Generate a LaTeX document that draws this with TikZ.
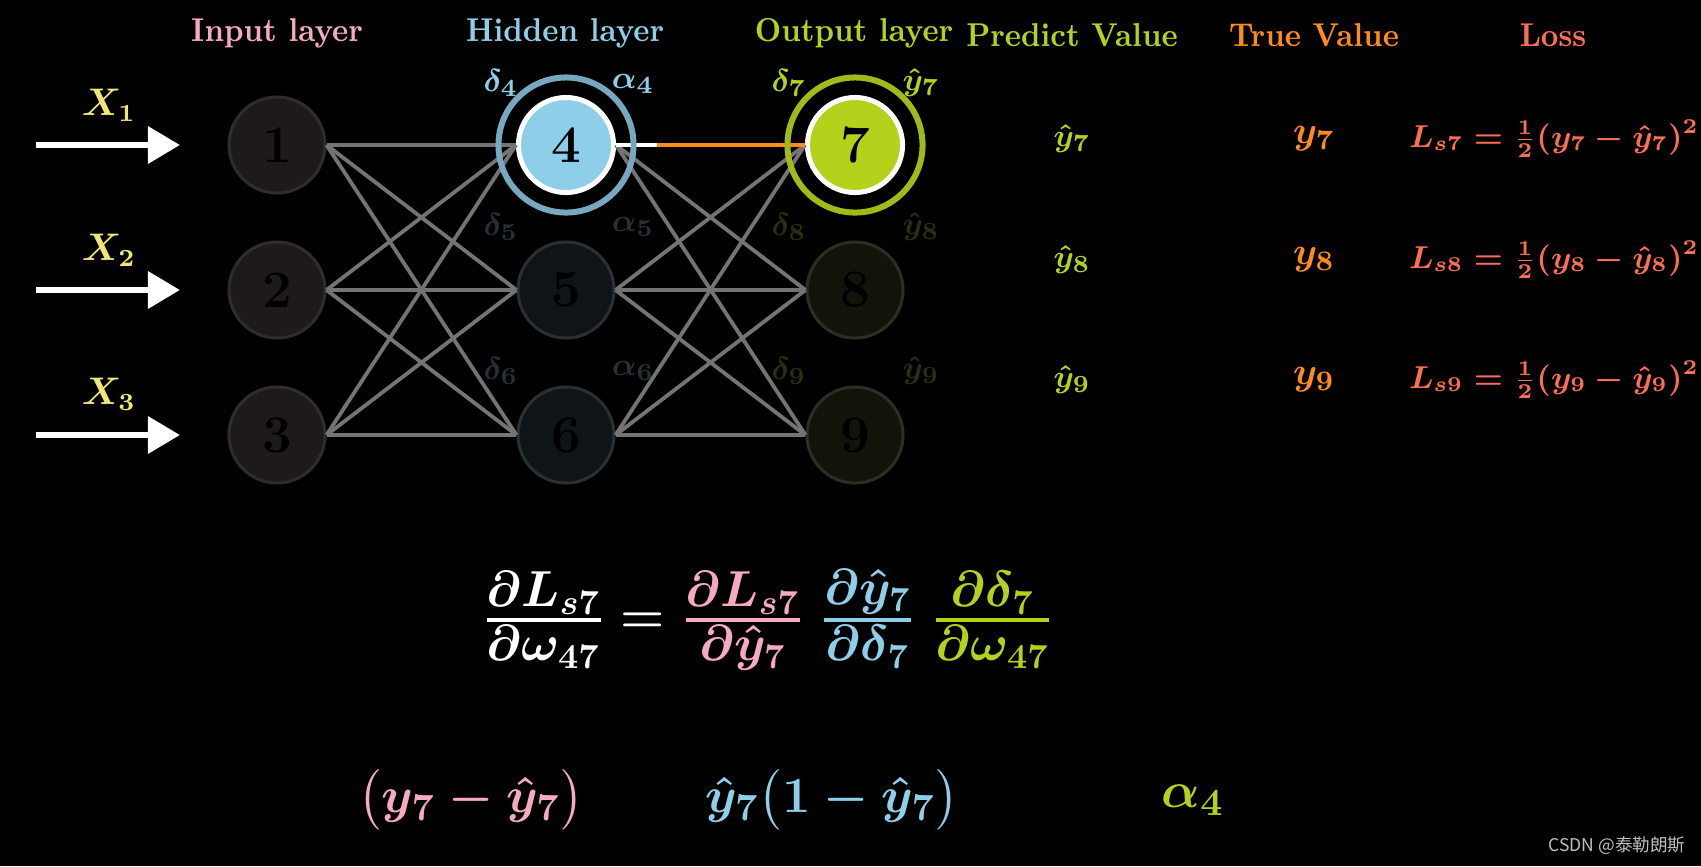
\documentclass[tikz,border=0pt]{standalone}
\usepackage{amsmath}
\usepackage{fontspec}
\newfontfamily\cjk{Noto Sans CJK SC}
\usetikzlibrary{arrows.meta}
\definecolor{pinkc}{RGB}{246,170,192}
\definecolor{bluec}{RGB}{142,206,232}
\definecolor{greenc}{RGB}{181,209,28}
\definecolor{orangec}{RGB}{255,140,26}
\definecolor{lossc}{RGB}{250,110,85}
\definecolor{xyel}{RGB}{240,230,120}
\definecolor{ringblue}{RGB}{118,168,192}
\definecolor{ringgreen}{RGB}{160,186,24}
\definecolor{edgegray}{RGB}{116,116,116}
\definecolor{infill}{RGB}{30,26,26}
\definecolor{indraw}{RGB}{46,44,44}
\definecolor{hidfill}{RGB}{14,20,24}
\definecolor{hiddraw}{RGB}{42,47,51}
\definecolor{outfill}{RGB}{18,20,10}
\definecolor{outdraw}{RGB}{44,46,34}
\definecolor{dimblue}{RGB}{36,48,54}
\definecolor{dimgreen}{RGB}{42,46,14}
\definecolor{wmgray}{RGB}{190,190,190}
\newcommand\nrw[1]{\scalebox{0.9}[1]{#1}}
\newcommand\tfr[2]{{\genfrac{}{}{1.1pt}{1}{\displaystyle #1}{\displaystyle #2}}}
\tikzset{
  neuron/.style={circle, minimum size=0.96cm, inner sep=0pt, line width=0.03cm,
    font=\fontsize{15}{16}\selectfont\bfseries, text=black},
  inneur/.style={neuron, fill=infill, draw=indraw},
  hidneur/.style={neuron, fill=hidfill, draw=hiddraw},
  outneur/.style={neuron, fill=outfill, draw=outdraw},
  hot/.style={neuron, minimum size=0.95cm, draw=white, line width=0.05cm},
  ringc/.style={circle, minimum size=1.35cm, inner sep=0pt, line width=0.06cm, fill=none},
  edge/.style={draw=edgegray, line width=0.038cm},
  title/.style={font=\fontsize{9.4}{11}\selectfont\bfseries},
  lab/.style={font=\fontsize{9.5}{11}\selectfont\boldmath},
  tab/.style={font=\fontsize{9.5}{11}\selectfont\boldmath},
  inarrow/.style={draw=white, line width=0.065cm, -{Triangle[length=0.32cm,width=0.36cm]}},
}
\begin{document}
\begin{tikzpicture}[x=0.01cm,y=-0.01cm]
\fill[black] (0,0) rectangle (1701,866);
\useasboundingbox (0,0) rectangle (1701,866);

% titles
\node[title, text=pinkc]   (tin)  at (277,33) {\nrw{Input layer}};
\node[title, text=bluec]   (thid) at (565,33) {\nrw{Hidden layer}};
\node[title, text=greenc]  (tout) at (854,33) {\nrw{Output layer}};
\node[title, text=greenc]  (tpre) at (1072,35) {\nrw{Predict Value}};
\node[title, text=orangec] (ttru) at (1314,35) {\nrw{True Value}};
\node[title, text=lossc]   (tlos) at (1553,35) {\nrw{Loss}};

% neurons
\node[inneur] (n1) at (277,145) {1};
\node[inneur] (n2) at (277,290) {2};
\node[inneur] (n3) at (277,435) {3};
\node[hot, fill=bluec] (n4) at (566,145) {4};
\node[hidneur] (n5) at (566,290) {5};
\node[hidneur] (n6) at (566,435) {6};
\node[hot, fill=greenc] (n7) at (855,145) {7};
\node[outneur] (n8) at (855,290) {8};
\node[outneur] (n9) at (855,435) {9};

% edges
\foreach \a in {1,2,3}{\foreach \b in {4,5,6}{\draw[edge] (n\a.east) -- (n\b.west);}}
\foreach \b in {8,9}{\draw[edge] (n4.east) -- (n\b.west);}
\foreach \a in {5,6}{\foreach \b in {7,8,9}{\draw[edge] (n\a.east) -- (n\b.west);}}
\coordinate (split) at (657,145);
\draw[draw=white, line width=0.038cm] (n4.east) -- (split);
\draw[draw=orangec, line width=0.038cm] (split) -- (n7.west);

% rings
\node[ringc, draw=ringblue]  (r4) at (n4) {};
\node[ringc, draw=ringgreen] (r7) at (n7) {};

% input arrows
\coordinate (a1s) at (36,145); \coordinate (a1e) at (180,145);
\coordinate (a2s) at (36,290); \coordinate (a2e) at (180,290);
\coordinate (a3s) at (36,435); \coordinate (a3e) at (180,435);
\draw[inarrow] (a1s) -- (a1e);
\draw[inarrow] (a2s) -- (a2e);
\draw[inarrow] (a3s) -- (a3e);
\node[lab, text=xyel, font=\fontsize{10.5}{12}\selectfont\boldmath] (x1) at (109,105) {$X_1$};
\node[lab, text=xyel, font=\fontsize{10.5}{12}\selectfont\boldmath] (x2) at (109,250) {$X_2$};
\node[lab, text=xyel, font=\fontsize{10.5}{12}\selectfont\boldmath] (x3) at (109,394) {$X_3$};

% node labels
\node[lab, text=bluec] (d4) at (501,83) {$\delta_4$};
\node[lab, text=bluec] (al4) at (633,84) {$\alpha_4$};
\node[lab, text=dimblue] (d5) at (501,227) {$\delta_5$};
\node[lab, text=dimblue] (al5) at (633,227) {$\alpha_5$};
\node[lab, text=dimblue] (d6) at (501,371) {$\delta_6$};
\node[lab, text=dimblue] (al6) at (633,371) {$\alpha_6$};
\node[lab, text=greenc] (d7) at (789,83) {$\delta_7$};
\node[lab, text=greenc] (yh7) at (921,83) {$\hat{y}_7$};
\node[lab, text=dimgreen] (d8) at (789,227) {$\delta_8$};
\node[lab, text=dimgreen] (yh8) at (921,227) {$\hat{y}_8$};
\node[lab, text=dimgreen] (d9) at (789,371) {$\delta_9$};
\node[lab, text=dimgreen] (yh9) at (921,371) {$\hat{y}_9$};

% table
\node[tab, text=greenc] (p7) at (1072,139) {$\hat{y}_7$};
\node[tab, text=greenc] (p8) at (1072,260) {$\hat{y}_8$};
\node[tab, text=greenc] (p9) at (1072,380) {$\hat{y}_9$};
\node[tab, text=orangec, font=\fontsize{11}{12}\selectfont\boldmath] (t7) at (1314,139) {$y_7$};
\node[tab, text=orangec, font=\fontsize{11}{12}\selectfont\boldmath] (t8) at (1314,260) {$y_8$};
\node[tab, text=orangec, font=\fontsize{11}{12}\selectfont\boldmath] (t9) at (1314,380) {$y_9$};
\node[tab, text=lossc, font=\fontsize{9}{11}\selectfont\boldmath] (l7) at (1554,139) {$L_{s7}=\frac{1}{2}(y_7-\hat{y}_7)^2$};
\node[tab, text=lossc, font=\fontsize{9}{11}\selectfont\boldmath] (l8) at (1554,260) {$L_{s8}=\frac{1}{2}(y_8-\hat{y}_8)^2$};
\node[tab, text=lossc, font=\fontsize{9}{11}\selectfont\boldmath] (l9) at (1554,380) {$L_{s9}=\frac{1}{2}(y_9-\hat{y}_9)^2$};

% chain rule
\node[text=white, font=\fontsize{14}{16}\selectfont\boldmath] (eq) at (768,620)
 {$\tfr{\partial L_{s7}}{\partial \omega_{47}} =
   \textcolor{pinkc}{\tfr{\partial L_{s7}}{\partial \hat{y}_7}}\;
   \textcolor{bluec}{\tfr{\partial \hat{y}_7}{\partial \delta_7}}\;
   \textcolor{greenc}{\tfr{\partial \delta_7}{\partial \omega_{47}}}$};

% bottom terms
\node[text=pinkc, font=\fontsize{15.5}{17}\selectfont\boldmath] (b1) at (471,800) {$\bigl(y_7-\hat{y}_7\bigr)$};
\node[text=bluec, font=\fontsize{15.5}{17}\selectfont\boldmath] (b2) at (832,800) {$\hat{y}_7\bigl(1-\hat{y}_7\bigr)$};
\node[text=greenc, font=\fontsize{15.5}{17}\selectfont\boldmath] (b3) at (1193,800) {$\alpha_4$};

% watermark
\node[text=wmgray, font=\cjk\fontsize{5}{6}\selectfont] (wm) at (1617,846) {CSDN @泰勒朗斯};
\end{tikzpicture}
\end{document}
